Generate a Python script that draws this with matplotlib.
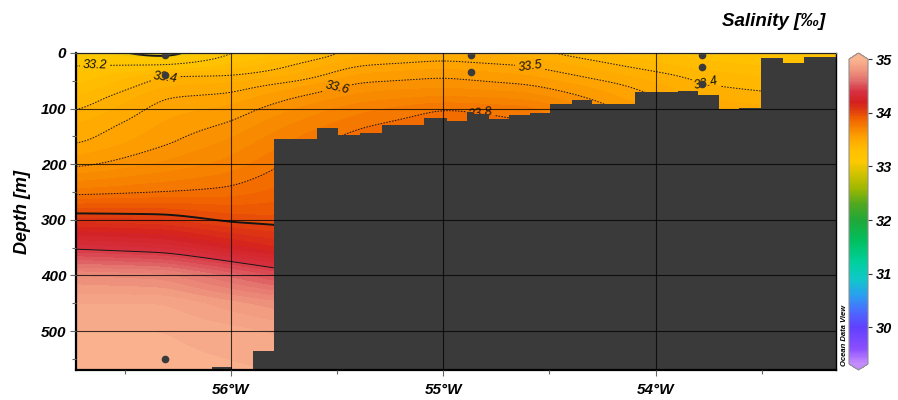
import numpy as np
import matplotlib
matplotlib.use("Agg")
import matplotlib.pyplot as plt
from matplotlib.colors import LinearSegmentedColormap, Normalize
from matplotlib.ticker import FixedLocator, MultipleLocator, FuncFormatter

# Gridded salinity section (permil): rows follow sal_depth, columns follow sal_lon
sal_lon = [-56.73, -56.31, -56.0, -55.7, -55.4, -55.0, -54.6, -54.2, -53.8, -53.4, -53.15]
sal_depth = [0, 20, 40, 60, 80, 100, 130, 160, 200, 250, 300, 350, 400, 450, 500, 570]
salinity = [
    [33.10, 32.90, 33.20, 33.32, 33.43, 33.46, 33.42, 33.34, 33.27, 33.22, 33.20],
    [33.19, 33.19, 33.30, 33.40, 33.49, 33.52, 33.49, 33.40, 33.32, 33.28, 33.25],
    [33.25, 33.40, 33.40, 33.45, 33.56, 33.59, 33.55, 33.46, 33.38, 33.33, 33.30],
    [33.30, 33.45, 33.47, 33.54, 33.62, 33.64, 33.61, 33.52, 33.41, 33.37, 33.34],
    [33.35, 33.50, 33.52, 33.60, 33.67, 33.71, 33.68, 33.56, 33.45, 33.42, 33.38],
    [33.39, 33.53, 33.56, 33.65, 33.73, 33.80, 33.77, 33.60, 33.48, 33.45, 33.42],
    [33.45, 33.56, 33.61, 33.71, 33.79, 33.85, 33.81, 33.66, 33.53, 33.50, 33.46],
    [33.49, 33.59, 33.66, 33.76, 33.84, 33.88, 33.85, 33.70, 33.58, 33.55, 33.50],
    [33.58, 33.66, 33.72, 33.82, 33.88, 33.92, 33.90, 33.75, 33.62, 33.60, 33.55],
    [33.77, 33.80, 33.82, 33.88, 33.92, 33.95, 33.93, 33.80, 33.66, 33.64, 33.60],
    [34.07, 34.05, 33.98, 33.96, 33.97, 33.98, 33.96, 33.85, 33.70, 33.68, 33.65],
    [34.38, 34.33, 34.22, 34.12, 34.10, 34.10, 34.08, 34.00, 33.90, 33.85, 33.80],
    [34.75, 34.72, 34.58, 34.45, 34.40, 34.40, 34.38, 34.30, 34.20, 34.15, 34.10],
    [34.90, 34.90, 34.82, 34.75, 34.70, 34.70, 34.68, 34.60, 34.50, 34.45, 34.40],
    [34.95, 34.95, 34.92, 34.88, 34.85, 34.85, 34.82, 34.78, 34.70, 34.65, 34.60],
    [34.97, 34.97, 34.96, 34.94, 34.92, 34.92, 34.90, 34.88, 34.85, 34.80, 34.78],
]

# Bottom topography as steps: each depth holds from its longitude to the next one
bathy_lon = [-56.73, -56.089, -55.995, -55.896, -55.798, -55.595, -55.496, -55.393,
             -55.289, -55.092, -54.981, -54.887, -54.864, -54.784, -54.689, -54.593,
             -54.499, -54.395, -54.301, -54.099, -53.896, -53.802, -53.699, -53.605,
             -53.501, -53.398, -53.299]
bathy_depth = [600, 565, 600, 535, 155, 135, 148, 144,
               130, 117, 122, 106, 110, 119, 112, 108,
               92, 85, 91, 70, 68, 76, 101, 99,
               9, 18, 7]

# Sample positions
stn_lon = [-56.31, -56.31, -56.31, -54.87, -54.87, -53.78, -53.78, -53.78]
stn_depth = [3, 40, 550, 3, 35, 3, 25, 56]

contour_levels = [33.0, 33.2, 33.4, 33.5, 33.6, 33.8, 34.0, 34.4]
label_spots = [(33.2, -56.64, 22), (33.4, -56.31, 38), (33.6, -55.50, 62),
               (33.5, -54.59, 23), (33.8, -54.82, 97), (33.4, -53.76, 55)]

cbar_ticks = [30, 31, 32, 33, 34, 35]
lon_ticks = [-56, -55, -54]
depth_ticks = [0, 100, 200, 300, 400, 500]

VMIN, VMAX = 29.32, 35.0
LON_MIN, LON_MAX = -56.73, -53.15
DEPTH_MAX = 570

plt.rcParams['font.family'] = ['Liberation Sans', 'DejaVu Sans']
plt.rcParams['font.weight'] = 'bold'
plt.rcParams['font.style'] = 'italic'

# ODV-style rainbow palette
palette = [
    (29.32, '#c58cff'), (29.6, '#8a4dff'), (30.0, '#6040ff'), (30.3, '#4a6cff'),
    (30.6, '#2aa0f0'), (30.9, '#10c8c8'), (31.2, '#00d0a0'), (31.6, '#00c060'),
    (32.0, '#20a838'), (32.3, '#50a820'), (32.6, '#a0b800'), (32.9, '#d8c400'),
    (33.1, '#ffc800'), (33.3, '#ffc000'), (33.5, '#ffa800'), (33.7, '#f88800'),
    (33.9, '#f06000'), (34.05, '#e03c10'), (34.2, '#d42020'), (34.4, '#d63040'),
    (34.6, '#e06a6a'), (34.8, '#f0967e'), (35.0, '#fab490'),
]
cmap = LinearSegmentedColormap.from_list(
    'odv', [((v - VMIN) / (VMAX - VMIN), c) for v, c in palette])
norm = Normalize(VMIN, VMAX)


def smooth(a, sigma, axis):
    r = int(3 * sigma)
    k = np.exp(-0.5 * (np.arange(-r, r + 1) / sigma) ** 2)
    k /= k.sum()
    pad = [(0, 0), (0, 0)]
    pad[axis] = (r, r)
    ap = np.pad(a, pad, mode='edge')
    return np.apply_along_axis(lambda v: np.convolve(v, k, mode='valid'), axis, ap)


# Interpolate the section onto a fine grid
S = np.array(salinity)
lon_f = np.linspace(LON_MIN, LON_MAX, 420)
dep_f = np.linspace(0, DEPTH_MAX, 300)
cols = np.array([np.interp(dep_f, sal_depth, S[:, j]) for j in range(S.shape[1])]).T
grid = np.array([np.interp(lon_f, sal_lon, row) for row in cols])
grid = smooth(grid, 6, axis=1)
grid = smooth(grid, 2.5, axis=0)

fig = plt.figure(figsize=(8.98, 4.0), dpi=100)
ax = fig.add_axes([76 / 898, 30 / 400, 760 / 898, 317 / 400])

ax.contourf(lon_f, dep_f, grid, levels=np.arange(29.3, 35.051, 0.05),
            cmap=cmap, norm=norm, extend='both', zorder=1)

# Isohalines, one set per level so each gets its own style and labels
label_texts = []
for lv in contour_levels:
    if lv in (33.0, 34.0):
        ls, lw = 'solid', 1.4
    elif lv == 34.4:
        ls, lw = 'solid', 0.7
    else:
        ls, lw = (0, (1.5, 1.5)), 0.7
    cs = ax.contour(lon_f, dep_f, grid, levels=[lv], colors='#151515',
                    linewidths=lw, linestyles=[ls], zorder=1.2)
    spots = [(lo, de) for l, lo, de in label_spots if l == lv]
    if spots:
        label_texts += ax.clabel(cs, manual=spots, inline=True, inline_spacing=3,
                                 fontsize=9, fmt='%.1f')
for t in label_texts:
    t.set_fontweight('normal')
    t.set_fontstyle('italic')
    t.set_color('#111111')
    t.set_zorder(1.3)

# Bottom topography
bx = bathy_lon + [LON_MAX]
bd = bathy_depth + [bathy_depth[-1]]
ax.fill_between(bx, bd, 700, step='post', color='#3a3a3a', lw=0, zorder=1.5)

ax.plot(stn_lon, stn_depth, 'o', ms=5.5, color='#3a3a3a', mec='none', zorder=1.6)

ax.set_xlim(LON_MIN, LON_MAX)
ax.set_ylim(DEPTH_MAX, 0)
ax.xaxis.set_major_locator(FixedLocator(lon_ticks))
ax.xaxis.set_minor_locator(MultipleLocator(0.5))
ax.xaxis.set_major_formatter(FuncFormatter(lambda v, p: f"{abs(v):.0f}°W"))
ax.yaxis.set_major_locator(FixedLocator(depth_ticks))
ax.yaxis.set_minor_locator(MultipleLocator(50))
ax.tick_params(which='both', direction='out', color='#666666', width=0.8, labelsize=11)
ax.tick_params(which='major', length=4)
ax.tick_params(which='minor', length=3)
ax.tick_params(axis='x', pad=5)
ax.tick_params(axis='y', pad=3)
ax.set_axisbelow(False)
ax.grid(which='major', color='black', lw=0.8, alpha=0.75)

for side in ('left', 'bottom'):
    ax.spines[side].set_linewidth(1.6)
    ax.spines[side].set_color('black')
ax.spines['right'].set_linewidth(1.0)
ax.spines['top'].set_linewidth(1.0)
ax.spines['top'].set_color('#8a8a8a')

ax.set_ylabel('Depth [m]', fontsize=13, fontweight='bold', fontstyle='italic', labelpad=7)

fig.text(774 / 898, 1 - 22 / 400, 'Salinity [‰]', ha='center', va='center',
         fontsize=13.5, fontweight='bold', fontstyle='italic')

# Colour bar
cax = fig.add_axes([849 / 898, 30 / 400, 19 / 898, 317 / 400])
sm = matplotlib.cm.ScalarMappable(norm=norm, cmap=cmap)
cb = fig.colorbar(sm, cax=cax, extend='both', extendfrac=0.02, ticks=cbar_ticks)
cb.outline.set_edgecolor('#909090')
cb.outline.set_linewidth(0.8)
cb.ax.tick_params(length=3, width=0.8, labelsize=10.5, pad=3, color='#333333')
cb.ax.set_yticklabels([str(t) for t in cbar_ticks])

fig.text(845 / 898, 1 - 335 / 400, 'Ocean Data View', rotation=90, ha='center',
         va='center', fontsize=5.5, fontweight='bold', fontstyle='italic')

fig.savefig('out.png', dpi=100)
